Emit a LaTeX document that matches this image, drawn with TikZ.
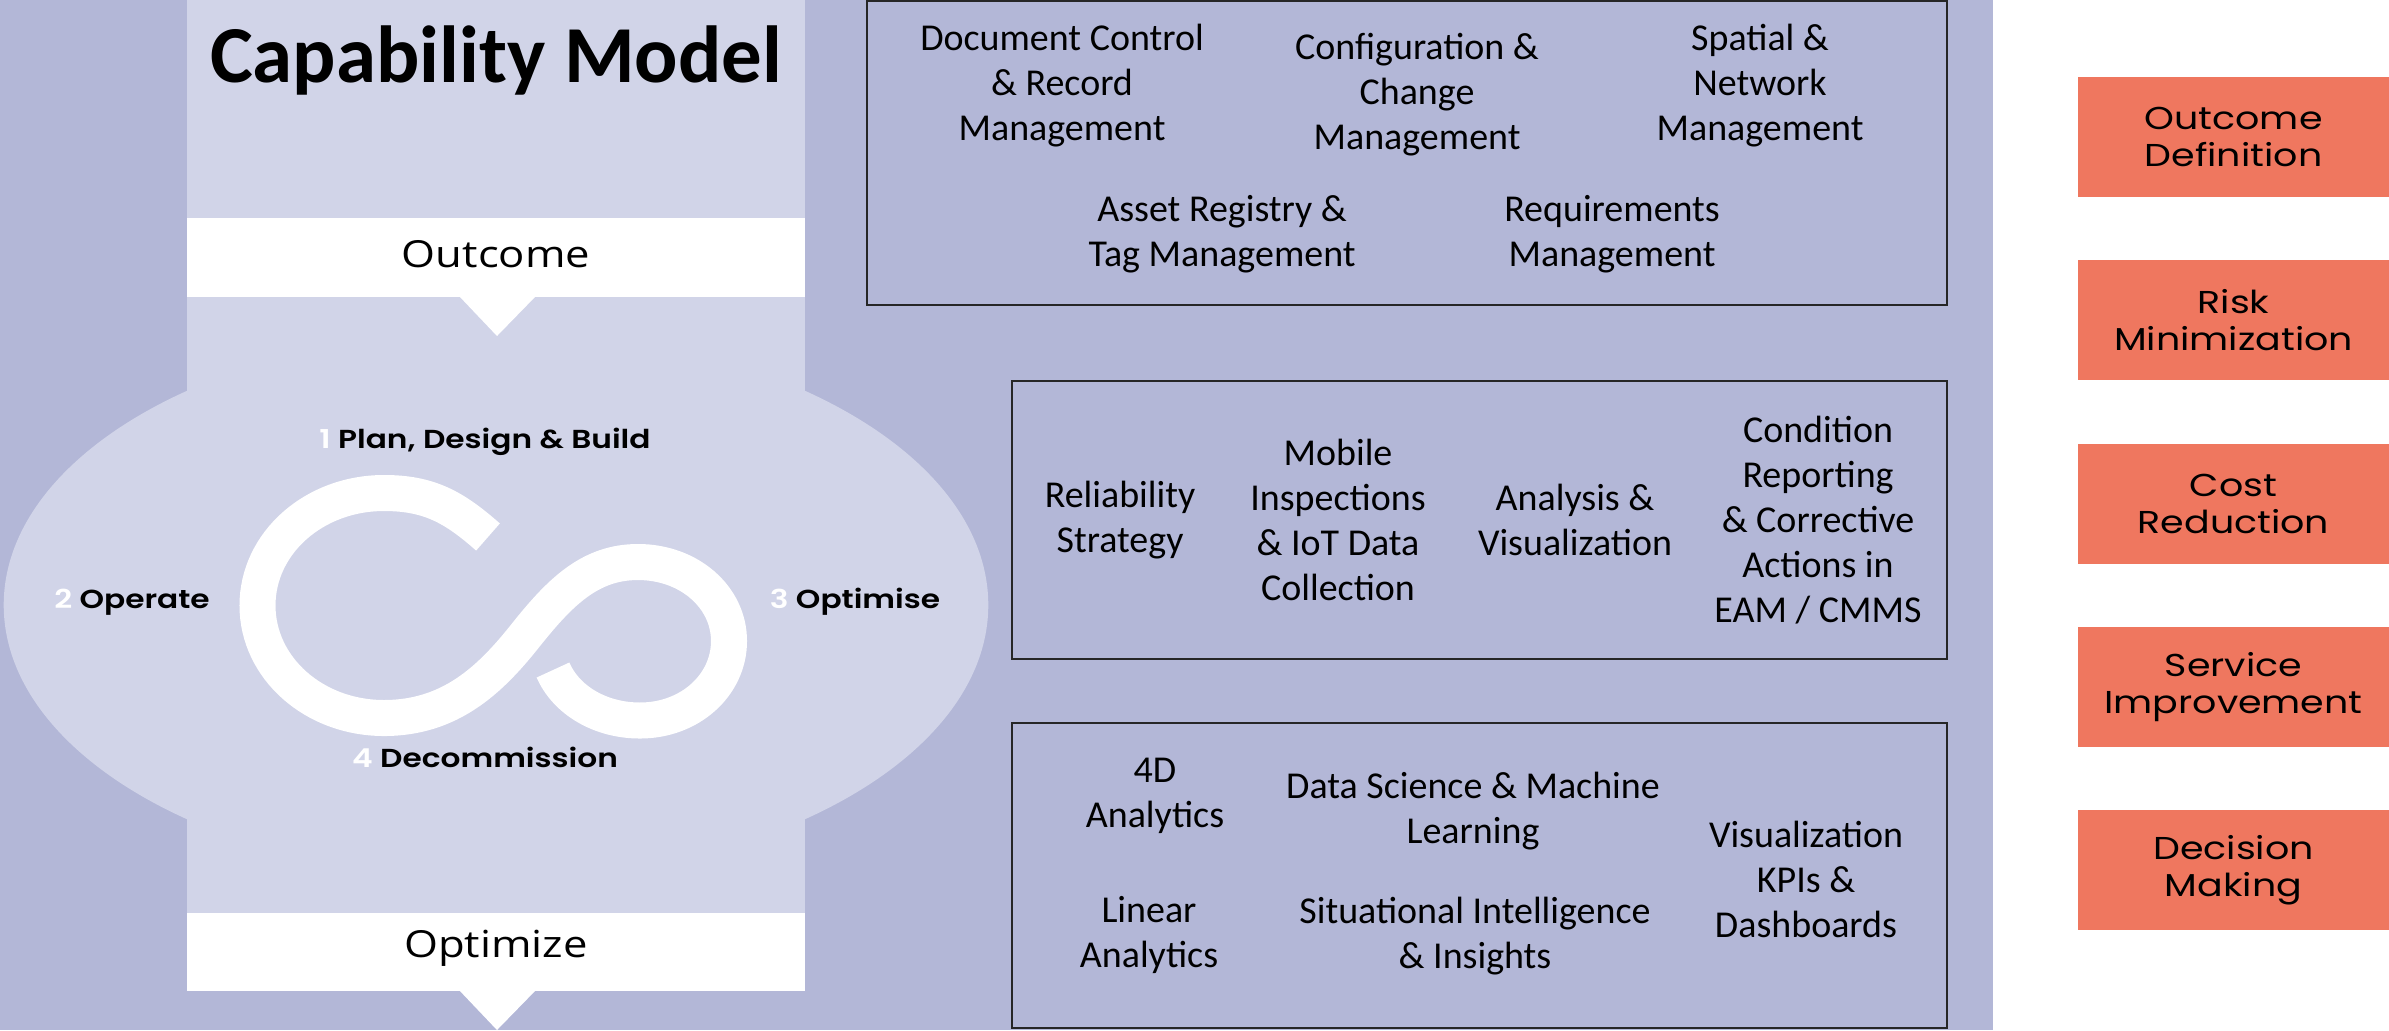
\documentclass[tikz,border=0pt]{standalone}
\usepackage{fontspec}
\setmainfont{Carlito}
\newfontfamily\bandfont[FakeStretch=1.17]{Open Sans}
\newfontfamily\phasefont[FakeStretch=1.2]{Poppins SemiBold}
\newfontfamily\widefont[FakeStretch=1.2]{Poppins}
\definecolor{lilac}{RGB}{179,183,215}
\definecolor{paleblue}{RGB}{209,212,232}
\definecolor{salmon}{RGB}{239,119,95}
\tikzset{
	capbox/.style={align=center, inner sep=0pt, font=\fontsize{10.8}{12.8}\selectfont},
	bandtext/.style={anchor=base, inner sep=0pt, font=\bandfont\fontsize{10.6}{13}\selectfont},
	goal/.style={fill=salmon, minimum width=3.11cm, minimum height=1.2cm, align=center, inner sep=0pt, font=\widefont\fontsize{9}{10.5}\selectfont},
	phase/.style={anchor=base, inner sep=0pt, font=\phasefont\fontsize{7.4}{9}\selectfont},
	groupbox/.style={draw=black!85, line width=0.7pt},
}
\newcommand{\num}[1]{\textcolor{white}{#1}}
\begin{document}
\begin{tikzpicture}[x=0.01cm, y=-0.01cm]
	\useasboundingbox (0,0) rectangle (2389,1030);
	\fill [white] (0,0) rectangle (2389,1030);
	\fill [lilac] (0,0) rectangle (1993,1030);

	% life cycle column
	\fill [paleblue] (187,0) rectangle (805,913);
	\fill [paleblue] (496,605) ellipse [x radius=4.92cm, y radius=2.75cm];
	\fill [white] (187,218) rectangle (805,297);
	\fill [white] (459,296) -- (536,296) -- (497,336) -- cycle;
	\fill [white] (187,913) rectangle (805,991);
	\fill [white] (459,990) -- (536,990) -- (497,1030) -- cycle;

	\node [anchor=base, inner sep=0pt, font=\bfseries\fontsize{23}{28}\selectfont] (title) at (496,82) {Capability Model};
	\node [bandtext] (outcome) at (496,267) {Outcome};
	\node [bandtext] (optimize) at (496,957) {Optimize};

	\draw [white, line width=0.36cm] (488,537) .. controls (454,507) and (429,493) .. (384,493)
		.. controls (314,493) and (257.5,543) .. (257.5,605.5)
		.. controls (257.5,668) and (314,718) .. (384,718)
		.. controls (450,718) and (490,680) .. (525,636)
		.. controls (560,592) and (590,562) .. (638,562)
		.. controls (689,562) and (729,597) .. (729,641)
		.. controls (729,685) and (690,720.5) .. (640,720.5)
		.. controls (600,720.5) and (566,700) .. (553,670);

	\node [phase] (plan) at (485,448) {\num{1} Plan, Design \& Build};
	\node [phase] (operate) at (132,608) {\num{2} Operate};
	\node [phase] (optimise) at (855,608) {\num{3} Optimise};
	\node [phase] (decom) at (485,767) {\num{4} Decommission};

	% capability groups
	\draw [groupbox] (867,1) rectangle (1947,305);
	\node [capbox] (doc) at (1062,86) {Document Control\\\& Record\\Management};
	\node [capbox] (config) at (1417,95) {Configuration \&\\Change\\Management};
	\node [capbox] (spatial) at (1760,86) {Spatial \&\\Network\\Management};
	\node [capbox] (asset) at (1222,234) {Asset Registry \&\\Tag Management};
	\node [capbox] (req) at (1612,234) {Requirements\\Management};

	\draw [groupbox] (1012,381) rectangle (1947,659);
	\node [capbox] (rel) at (1120,520) {Reliability\\Strategy};
	\node [capbox] (mobile) at (1338,520) {Mobile\\Inspections\\\& IoT Data\\Collection};
	\node [capbox] (analysis) at (1575,520) {Analysis \&\\Visualization};
	\node [capbox] (cond) at (1818,520) {Condition\\Reporting\\\& Corrective\\Actions in\\EAM / CMMS};

	\draw [groupbox] (1012,723) rectangle (1947,1028);
	\node [capbox] (fourd) at (1155,796) {4D\\Analytics};
	\node [capbox] (datasci) at (1473,811) {Data Science \& Machine\\Learning};
	\node [capbox] (linear) at (1149,935) {Linear\\Analytics};
	\node [capbox] (situ) at (1475,936) {Situational Intelligence\\\& Insights};
	\node [capbox] (kpi) at (1806,879) {Visualization\\KPIs \&\\Dashboards};

	% outcomes
	\node [goal] (def) at (2233.5,137) {Outcome\\Definition};
	\node [goal] (risk) at (2233.5,320) {Risk\\Minimization};
	\node [goal] (cost) at (2233.5,504) {Cost\\Reduction};
	\node [goal] (service) at (2233.5,687) {Service\\Improvement};
	\node [goal] (decision) at (2233.5,870) {Decision\\Making};
\end{tikzpicture}
\end{document}
